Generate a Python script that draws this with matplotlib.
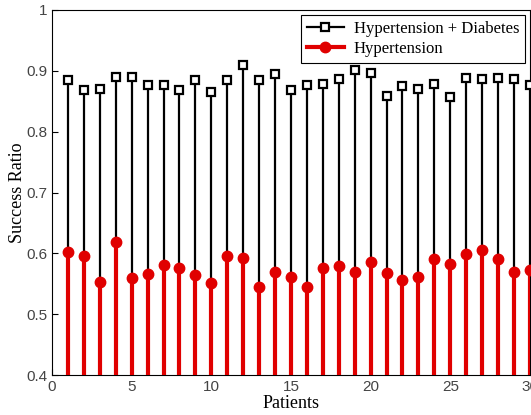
import matplotlib
matplotlib.use("Agg")
import matplotlib.pyplot as plt
from matplotlib.lines import Line2D
from matplotlib.legend_handler import HandlerLine2D

patients = list(range(1, 31))
hyp_diab = [0.885, 0.868, 0.870, 0.890, 0.890, 0.877, 0.876, 0.868, 0.885, 0.866,
            0.885, 0.910, 0.885, 0.895, 0.869, 0.876, 0.878, 0.886, 0.902, 0.897,
            0.858, 0.875, 0.870, 0.879, 0.857, 0.888, 0.887, 0.888, 0.886, 0.876]
hyp = [0.602, 0.596, 0.553, 0.619, 0.559, 0.566, 0.581, 0.576, 0.565, 0.551,
       0.596, 0.593, 0.545, 0.570, 0.562, 0.545, 0.576, 0.580, 0.570, 0.586,
       0.568, 0.557, 0.562, 0.591, 0.583, 0.599, 0.605, 0.591, 0.570, 0.573]
xticks = [0, 5, 10, 15, 20, 25, 30]
yticks = [0.4, 0.5, 0.6, 0.7, 0.8, 0.9, 1.0]
ytick_labels = ["0.4", "0.5", "0.6", "0.7", "0.8", "0.9", "1"]


class EndMarkerHandler(HandlerLine2D):
    def get_xdata(self, legend, xdescent, ydescent, width, height, fontsize):
        xdata = [-xdescent, -xdescent + width]
        return xdata, [-xdescent + 0.85 * width]


fig = plt.figure(figsize=(5.31, 4.15), dpi=100)
ax = fig.add_axes([0.098, 0.096, 0.900, 0.880])
base = 0.4
ax.vlines(patients, base, hyp_diab, color="black", linewidth=1.6, zorder=2)
ax.plot(patients, hyp_diab, linestyle="none", marker="s", markersize=5.5,
        markerfacecolor="white", markeredgecolor="black", markeredgewidth=1.6, zorder=3)
ax.vlines(patients, base, hyp, color="#e00000", linewidth=3, zorder=4)
ax.plot(patients, hyp, linestyle="none", marker="o", markersize=7.5,
        markerfacecolor="#e00000", markeredgecolor="#e00000", zorder=5)

ax.set_xlim(0, 30)
ax.set_ylim(0.4, 1.0)
ax.set_xticks(xticks)
ax.set_yticks(yticks)
ax.set_yticklabels(ytick_labels)
ax.tick_params(direction="in", length=4, labelsize=11, colors="black")
for lab in ax.get_xticklabels() + ax.get_yticklabels():
    lab.set_fontfamily("Liberation Sans")
    lab.set_color("#444444")
ax.set_xlabel("Patients", fontfamily="Liberation Serif", fontsize=13, labelpad=1)
ax.set_ylabel("Success Ratio", fontfamily="Liberation Serif", fontsize=13)
ax.yaxis.set_label_coords(-0.055, 0.5)

h1 = Line2D([], [], color="black", linewidth=1.6, marker="s", markersize=5.5,
            markerfacecolor="white", markeredgewidth=1.6)
h2 = Line2D([], [], color="#e00000", linewidth=3, marker="o", markersize=7.5)
leg = ax.legend([h1, h2], ["Hypertension + Diabetes", "Hypertension"],
                loc="upper right", prop={"family": "Liberation Serif", "size": 12},
                fancybox=False, edgecolor="black", framealpha=1,
                borderaxespad=0.3, handlelength=2.2, labelspacing=0.25,
                handletextpad=0.6, borderpad=0.35, numpoints=1,
                handler_map={h1: EndMarkerHandler(), h2: EndMarkerHandler()})
leg.get_frame().set_linewidth(0.8)

fig.savefig("out.png", dpi=100)
